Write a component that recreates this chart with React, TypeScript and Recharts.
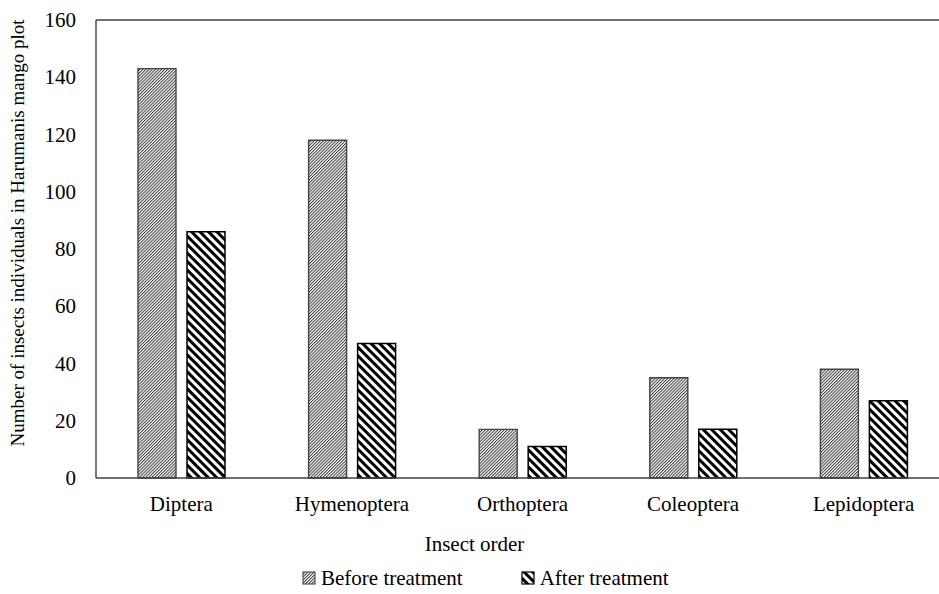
import React from "react";
import { BarChart, Bar, XAxis, YAxis, Legend, ReferenceLine, Label } from "recharts";

const categories = ["Diptera", "Hymenoptera", "Orthoptera", "Coleoptera", "Lepidoptera"];
const beforeTreatment = [143, 118, 17, 35, 38];
const afterTreatment = [86, 47, 11, 17, 27];
const yTicks = [0, 20, 40, 60, 80, 100, 120, 140, 160];

const data = categories.map((order, i) => ({
  order,
  before: beforeTreatment[i],
  after: afterTreatment[i],
}));

const FONT = "Liberation Serif, Times New Roman, serif";
const AXIS = "#404040";

function Patterns({ prefix }: { prefix: string }) {
  return (
    <defs>
      <pattern id={`${prefix}fine`} patternUnits="userSpaceOnUse" width={2.2} height={2.2} patternTransform="rotate(45)">
        <rect width={2.2} height={2.2} fill="#fff" />
        <rect width={1} height={2.2} fill="#3a3a3a" />
      </pattern>
      <pattern id={`${prefix}bold`} patternUnits="userSpaceOnUse" width={6} height={6} patternTransform="rotate(-45)">
        <rect width={6} height={6} fill="#fff" />
        <rect width={3} height={6} fill="#000" />
      </pattern>
    </defs>
  );
}

function XTick(props: any) {
  const { x, y, payload } = props;
  return (
    <text x={x} y={y + 15} textAnchor="middle" style={{ fontFamily: FONT, fontSize: 21 }} fill="#000">
      {payload.value}
    </text>
  );
}

function YTick(props: any) {
  const { x, y, payload } = props;
  return (
    <text x={x} y={y + 7} textAnchor="end" style={{ fontFamily: FONT, fontSize: 21 }} fill="#000">
      {payload.value}
    </text>
  );
}

function renderYLabel(props: any) {
  const vb = props.viewBox;
  const x = vb.x + 17;
  const y = vb.y + vb.height / 2 - 16;
  return (
    <text
      x={x}
      y={y}
      transform={`rotate(-90, ${x}, ${y})`}
      textAnchor="middle"
      dominantBaseline="central"
      style={{ fontFamily: FONT, fontSize: 19 }}
      fill="#000"
    >
      Number of insects individuals in Harumanis mango plot
    </text>
  );
}

function renderXLabel(props: any) {
  const vb = props.viewBox;
  return (
    <text
      x={vb.x + vb.width / 2 - 48}
      y={vb.y + 73}
      textAnchor="middle"
      style={{ fontFamily: FONT, fontSize: 21 }}
      fill="#000"
    >
      Insect order
    </text>
  );
}

function renderLegend() {
  const item = (id: string, text: string, stroke: string) => (
    <div style={{ display: "flex", alignItems: "center" }}>
      <svg width={14} height={14} style={{ marginRight: 5 }}>
        <rect x={1} y={1} width={12} height={12} fill={`url(#${id})`} stroke={stroke} strokeWidth={1.2} />
      </svg>
      <span style={{ fontFamily: FONT, fontSize: 21 }}>{text}</span>
    </div>
  );
  return (
    <div>
      <svg width={0} height={0} style={{ position: "absolute" }}>
        <Patterns prefix="lg" />
      </svg>
      <div
        style={{
          display: "flex",
          alignItems: "center",
          height: 40,
          paddingLeft: 302,
          gap: 58,
          color: "#000",
        }}
      >
        {item("lgfine", "Before treatment", "#555")}
        {item("lgbold", "After treatment", "#000")}
      </div>
    </div>
  );
}

export default function App() {
  return (
    <div
      style={{
        position: "absolute",
        left: 0,
        top: 0,
        width: 939,
        height: 594,
        overflow: "hidden",
        background: "#fff",
        fontFamily: FONT,
      }}
    >
      <BarChart
        width={949}
        height={594}
        data={data}
        margin={{ top: 20, right: 0, left: 0, bottom: 0 }}
        barSize={38}
        barGap={11}
      >
        <Patterns prefix="ch" />
        <XAxis
          dataKey="order"
          height={80}
          tickLine={false}
          tickSize={0}
          tickMargin={18}
          axisLine={{ stroke: AXIS, strokeWidth: 1.4 }}
          tick={<XTick />}
          interval={0}
        >
          <Label content={renderXLabel} />
        </XAxis>
        <YAxis
          width={96}
          domain={[0, 160]}
          ticks={yTicks}
          tickLine={false}
          tickSize={0}
          tickMargin={20}
          axisLine={{ stroke: AXIS, strokeWidth: 1.4 }}
          tick={<YTick />}
        >
          <Label content={renderYLabel} />
        </YAxis>
        <ReferenceLine y={160} stroke={AXIS} strokeWidth={1.4} />
        <Legend verticalAlign="bottom" height={36} content={renderLegend} />
        <Bar dataKey="before" name="Before treatment" fill="url(#chfine)" stroke="#444" strokeWidth={1.4} isAnimationActive={false} />
        <Bar dataKey="after" name="After treatment" fill="url(#chbold)" stroke="#000" strokeWidth={1.5} isAnimationActive={false} />
      </BarChart>
    </div>
  );
}
